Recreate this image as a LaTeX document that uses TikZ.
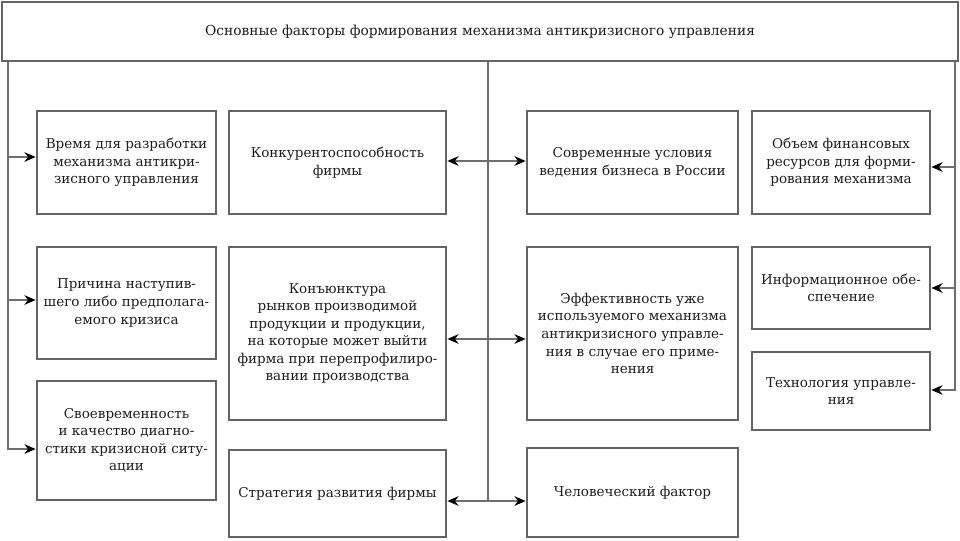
\documentclass[tikz,border=0pt]{standalone}
\usepackage{fontspec}
\setmainfont{DejaVu Serif}
\usetikzlibrary{arrows.meta, positioning}
\definecolor{cFrame}{RGB}{100,100,100}
\definecolor{cLine}{RGB}{110,110,110}
\definecolor{cText}{RGB}{30,30,30}
\tikzset{
	factor/.style ={rectangle, draw=cFrame, line width=1.9pt, align=center, text=cText, inner sep=2pt, font=\fontsize{9.6}{12.5}\selectfont},
	header/.style ={rectangle, draw=cFrame, line width=1.6pt, align=center, text=cText, font=\fontsize{9.8}{12}\selectfont},
	bus/.style    ={cLine, line width=1.6pt},
	feed/.style   ={cLine, line width=1.4pt, -{Stealth[length=2.8mm, width=2.4mm, color=black]}},
	feedboth/.style={cLine, line width=1.4pt, {Stealth[length=2.8mm, width=2.4mm, color=black]}-{Stealth[length=2.8mm, width=2.4mm, color=black]}},
}
\begin{document}
\begin{tikzpicture}[x=0.025cm, y=-0.025cm]
	\useasboundingbox (0,0) rectangle (960,540);
	% title
	\node[header, minimum width=23.9cm, minimum height=1.475cm] (title) at (480,31.5) {Основные факторы формирования механизма антикризисного управления};
	% first column
	\node[factor, minimum width=4.475cm, minimum height=2.575cm] (time) at (126.5,162.5) {Время для разработки\\механизма антикри-\\зисного управления};
	\node[factor, minimum width=4.475cm, minimum height=2.8cm] (cause) at (126.5,303) {Причина наступив-\\шего либо предполага-\\емого кризиса};
	\node[factor, minimum width=4.475cm, minimum height=2.975cm] (diag) at (126.5,440.5) {Своевременность\\и качество диагно-\\стики кризисной ситу-\\ации};
	% second column
	\node[factor, minimum width=5.425cm, minimum height=2.575cm] (compet) at (337.5,162.5) {Конкурентоспособность\\фирмы};
	\node[factor, minimum width=5.425cm, minimum height=4.325cm] (market) at (337.5,333.5) {Конъюнктура\\рынков производимой\\продукции и продукции,\\на которые может выйти\\фирма при перепрофилиро-\\вании производства};
	\node[factor, minimum width=5.425cm, minimum height=2.175cm] (strat) at (337.5,493.5) {Стратегия развития фирмы};
	% third column
	\node[factor, minimum width=5.275cm, minimum height=2.575cm] (russia) at (632.5,162.5) {Современные условия\\ведения бизнеса в России};
	\node[factor, minimum width=5.275cm, minimum height=4.325cm] (effect) at (632.5,333.5) {Эффективность уже\\используемого механизма\\антикризисного управле-\\ния в случае его приме-\\нения};
	\node[factor, minimum width=5.275cm, minimum height=2.225cm] (human) at (632.5,492.5) {Человеческий фактор};
	% fourth column
	\node[factor, minimum width=4.45cm, minimum height=2.575cm] (finance) at (841,162.5) {Объем финансовых\\ресурсов для форми-\\рования механизма};
	\node[factor, minimum width=4.45cm, minimum height=2.05cm] (inform) at (841,288) {Информационное обе-\\спечение};
	\node[factor, minimum width=4.45cm, minimum height=1.95cm] (techn) at (841,391) {Технология управле-\\ния};
	% buses
	\coordinate (lbus) at (8,0);
	\coordinate (mbus) at (488,0);
	\coordinate (rbus) at (955,0);
	\draw[feed] (title.south -| lbus) |- (diag.west |- 0,449);
	\draw[feed] (lbus |- 0,157) -- (time.west |- 0,157);
	\draw[feed] (lbus |- 0,300) -- (cause.west |- 0,300);
	\draw[bus] (title.south -| mbus) -- (mbus |- 0,501);
	\draw[feedboth] (compet.east |- 0,161) -- (russia.west |- 0,161);
	\draw[feedboth] (market.east |- 0,339) -- (effect.west |- 0,339);
	\draw[feedboth] (strat.east |- 0,501) -- (human.west |- 0,501);
	\draw[feed] (title.south -| rbus) |- (techn.east |- 0,390);
	\draw[feed] (rbus |- 0,167) -- (finance.east |- 0,167);
	\draw[feed] (rbus |- 0,288) -- (inform.east |- 0,288);
\end{tikzpicture}
\end{document}
